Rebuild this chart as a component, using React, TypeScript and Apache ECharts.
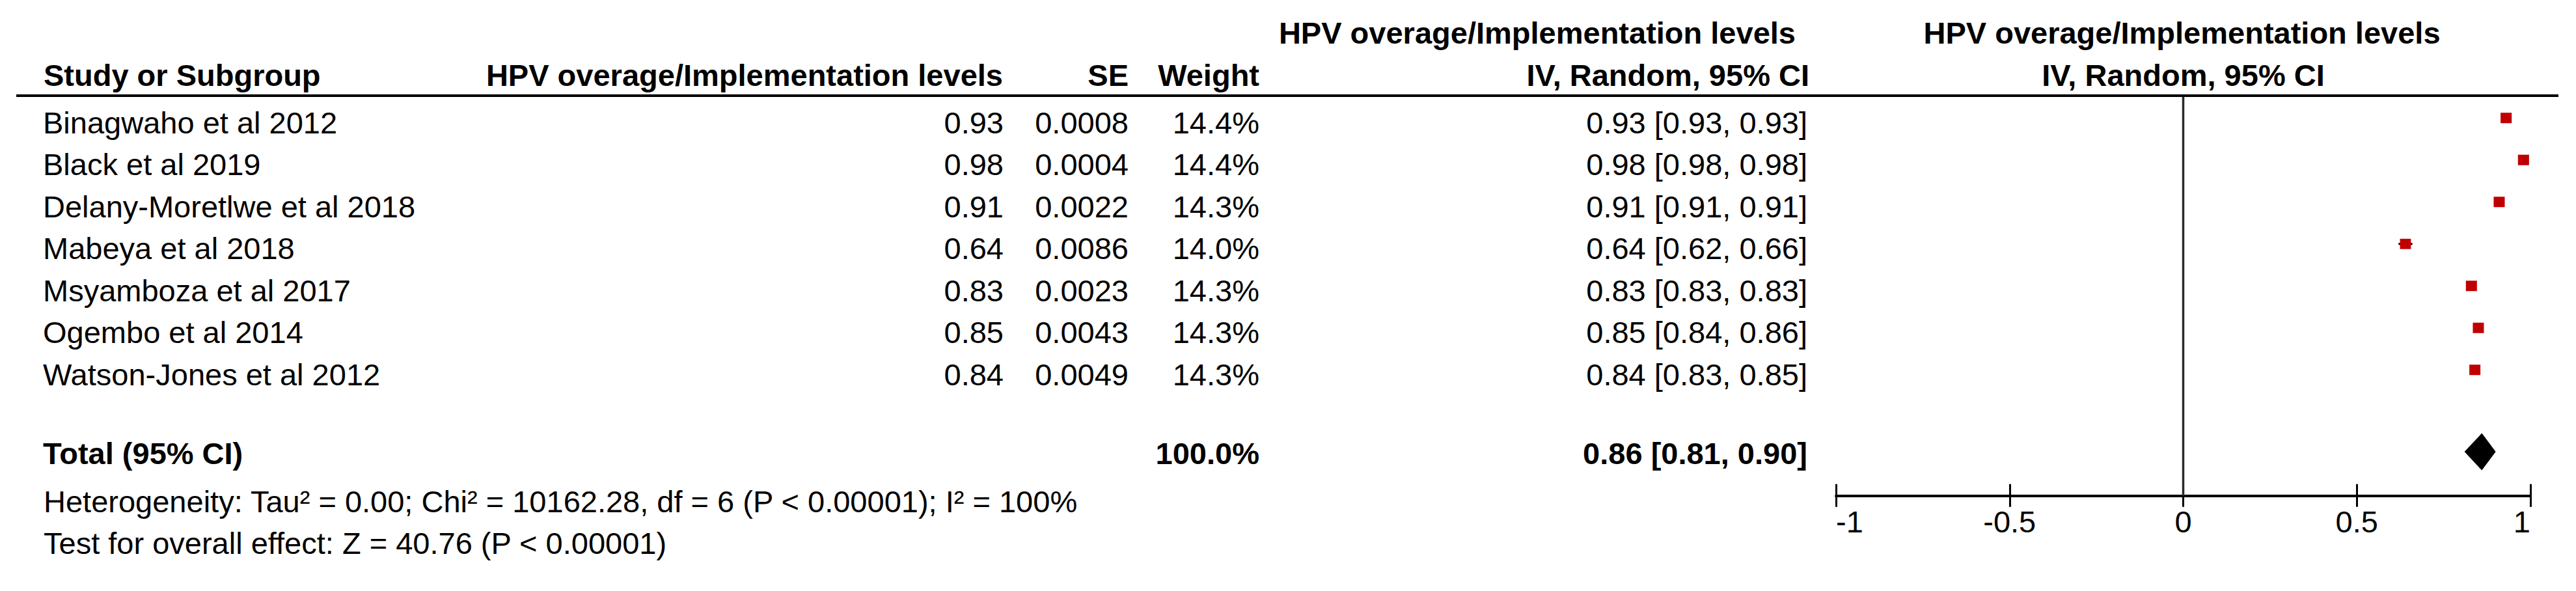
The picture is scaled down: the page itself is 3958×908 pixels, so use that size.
import React, { useEffect, useRef } from "react";
import * as echarts from "echarts";

// ---------------- data ----------------
const studies = [
  "Binagwaho et al 2012",
  "Black et al 2019",
  "Delany-Moretlwe et al 2018",
  "Mabeya et al 2018",
  "Msyamboza et al 2017",
  "Ogembo et al 2014",
  "Watson-Jones et al 2012",
];
const effects = [0.93, 0.98, 0.91, 0.64, 0.83, 0.85, 0.84];
const seValues = ["0.0008", "0.0004", "0.0022", "0.0086", "0.0023", "0.0043", "0.0049"];
const weights = [14.4, 14.4, 14.3, 14.0, 14.3, 14.3, 14.3];
const ciLow = [0.93, 0.98, 0.91, 0.62, 0.83, 0.84, 0.83];
const ciHigh = [0.93, 0.98, 0.91, 0.66, 0.83, 0.86, 0.85];
const totalEffect = [0.86];
const totalLow = [0.81];
const totalHigh = [0.9];
const totalWeight = [100.0];
const axisTickValues = [-1, -0.5, 0, 0.5, 1];
const headerTop = ["HPV overage/Implementation levels", "HPV overage/Implementation levels"];
const headerCols = [
  "Study or Subgroup",
  "HPV overage/Implementation levels",
  "SE",
  "Weight",
  "IV, Random, 95% CI",
  "IV, Random, 95% CI",
];
const totalLabel = "Total (95% CI)";
const heterogeneityText =
  "Heterogeneity: Tau\u00B2 = 0.00; Chi\u00B2 = 10162.28, df = 6 (P < 0.00001); I\u00B2 = 100%";
const overallText = "Test for overall effect: Z = 40.76 (P < 0.00001)";

// ---------------- layout ----------------
const W = 3958;
const H = 908;
const FONT = '"Liberation Sans", Arial, Helvetica, sans-serif';
const FS = 47;
const GRID_TOP = 149;
const ROW_H = 64.5;
const Y_MIN = -0.5;
const Y_MAX = 9;
const GRID_H = (Y_MAX - Y_MIN) * ROW_H;
const TOTAL_ROW = 7.95;
const TEXT_DY = 7;
const TOTAL_DY = 2;
const PLOT_LEFT = 2821;
const PLOT_W = 1067;
const X_NAME = 66;
const X_EFFECT = 1542;
const X_SE = 1734;
const X_WEIGHT = 1935;
const X_CI = 2777;
const ZERO_X = PLOT_LEFT + PLOT_W / 2;

const fmt2 = (v: number) => v.toFixed(2);
const ciText = (e: number, l: number, h: number) => `${fmt2(e)} [${fmt2(l)}, ${fmt2(h)}]`;

function txt(x: number, y: number, text: string, align: string, bold = false) {
  return {
    type: "text",
    x,
    y,
    silent: true,
    style: {
      text,
      fill: "#000",
      fontSize: FS,
      fontFamily: FONT,
      fontWeight: bold ? "bold" : "normal",
      align,
      textAlign: align,
      verticalAlign: "middle",
      textVerticalAlign: "middle",
    },
  };
}

function buildOption() {
  const rowIdx = studies.map((_, i) => i);
  return {
    animation: false,
    backgroundColor: "#ffffff",
    grid: [
      { left: 0, top: GRID_TOP, width: W, height: GRID_H, outerBoundsMode: "none", containLabel: false },
      { left: PLOT_LEFT, top: GRID_TOP, width: PLOT_W, height: GRID_H, outerBoundsMode: "none", containLabel: false },
    ],
    xAxis: [
      { type: "value", gridIndex: 0, min: 0, max: W, show: false },
      {
        type: "value",
        gridIndex: 1,
        min: -1,
        max: 1,
        interval: 0.5,
        position: "bottom",
        axisLine: { show: true, onZero: false, lineStyle: { color: "#000", width: 4 } },
        axisTick: { show: true, inside: false, length: 17, lineStyle: { color: "#000", width: 3 } },
        axisLabel: {
          show: true,
          margin: 16,
          color: "#000",
          fontSize: FS,
          fontFamily: FONT,
          alignMinLabel: "left",
          alignMaxLabel: "right",
          formatter: (v: number) => (axisTickValues.includes(v) ? String(v) : ""),
        },
        splitLine: { show: false },
      },
      {
        type: "value",
        gridIndex: 1,
        min: -1,
        max: 1,
        interval: 0.5,
        position: "bottom",
        offset: 0,
        axisLine: { show: false, onZero: false },
        axisTick: { show: true, inside: true, length: 18, lineStyle: { color: "#000", width: 3 } },
        axisLabel: { show: false },
        splitLine: { show: false },
      },
    ],
    yAxis: [
      { type: "value", gridIndex: 0, min: Y_MIN, max: Y_MAX, inverse: true, show: false },
      { type: "value", gridIndex: 1, min: Y_MIN, max: Y_MAX, inverse: true, show: false },
    ],
    series: [
      // table rows
      {
        type: "custom",
        xAxisIndex: 0,
        yAxisIndex: 0,
        data: rowIdx.map((i) => [0, i]),
        renderItem: (params: any, api: any) => {
          const i = params.dataIndex;
          const y = api.coord([0, api.value(1)])[1] + TEXT_DY;
          return {
            type: "group",
            children: [
              txt(X_NAME, y, studies[i], "left"),
              txt(X_EFFECT, y, fmt2(effects[i]), "right"),
              txt(X_SE, y, seValues[i], "right"),
              txt(X_WEIGHT, y, `${weights[i].toFixed(1)}%`, "right"),
              txt(X_CI, y, ciText(effects[i], ciLow[i], ciHigh[i]), "right"),
            ],
          };
        },
      },
      // total row text
      {
        type: "custom",
        xAxisIndex: 0,
        yAxisIndex: 0,
        data: totalEffect.map(() => [0, TOTAL_ROW]),
        renderItem: (params: any, api: any) => {
          const i = params.dataIndex;
          const y = api.coord([0, api.value(1)])[1] + TOTAL_DY;
          return {
            type: "group",
            children: [
              txt(X_NAME, y, totalLabel, "left", true),
              txt(X_WEIGHT, y, `${totalWeight[i].toFixed(1)}%`, "right", true),
              txt(X_CI, y, ciText(totalEffect[i], totalLow[i], totalHigh[i]), "right", true),
            ],
          };
        },
      },
      // zero line
      {
        type: "line",
        xAxisIndex: 1,
        yAxisIndex: 1,
        data: [
          [0, Y_MIN],
          [0, Y_MAX],
        ],
        symbol: "none",
        silent: true,
        lineStyle: { color: "#2a2a2a", width: 3.5 },
        z: 1,
      },
      // CI whiskers
      {
        type: "custom",
        xAxisIndex: 1,
        yAxisIndex: 1,
        data: rowIdx.map((i) => [ciLow[i], ciHigh[i], i]),
        z: 2,
        renderItem: (params: any, api: any) => {
          const a = api.coord([api.value(0), api.value(2)]);
          const b = api.coord([api.value(1), api.value(2)]);
          return {
            type: "line",
            shape: { x1: a[0], y1: a[1], x2: b[0], y2: b[1] },
            style: { stroke: "#000", lineWidth: 3 },
          };
        },
      },
      // study squares
      {
        type: "scatter",
        xAxisIndex: 1,
        yAxisIndex: 1,
        data: rowIdx.map((i) => [effects[i], i]),
        symbol: "rect",
        symbolSize: (_v: any, p: any) => {
          const s = Math.sqrt(weights[p.dataIndex] / 14.3);
          return [17 * s, 16 * s];
        },
        itemStyle: { color: "#C00000", opacity: 1 },
        z: 3,
      },
      // total diamond
      {
        type: "custom",
        xAxisIndex: 1,
        yAxisIndex: 1,
        data: totalEffect.map((e, i) => [totalLow[i], e, totalHigh[i], TOTAL_ROW]),
        z: 3,
        renderItem: (params: any, api: any) => {
          const r = api.value(3);
          const l = api.coord([api.value(0), r]);
          const c = api.coord([api.value(1), r]);
          const h = api.coord([api.value(2), r]);
          const hh = 28.5;
          return {
            type: "polygon",
            shape: {
              points: [
                [l[0], c[1]],
                [c[0], c[1] - hh],
                [h[0], c[1]],
                [c[0], c[1] + hh],
              ],
            },
            style: { fill: "#000" },
          };
        },
      },
    ],
    graphic: [
      {
        type: "line",
        silent: true,
        shape: { x1: 25, y1: 147, x2: 3931, y2: 147 },
        style: { stroke: "#000", lineWidth: 4 },
      },
      txt(2759, 50, headerTop[0], "right", true),
      txt(ZERO_X - 2, 50, headerTop[1], "center", true),
      txt(X_NAME + 1, 115, headerCols[0], "left", true),
      txt(X_EFFECT - 1, 115, headerCols[1], "right", true),
      txt(X_SE, 115, headerCols[2], "right", true),
      txt(X_WEIGHT, 115, headerCols[3], "right", true),
      txt(X_CI + 3, 115, headerCols[4], "right", true),
      txt(ZERO_X, 115, headerCols[5], "center", true),
      txt(X_NAME + 1, 770, heterogeneityText, "left"),
      txt(X_NAME + 1, 834, overallText, "left"),
    ],
  };
}

export default function App() {
  const ref = useRef<HTMLDivElement>(null);
  useEffect(() => {
    document.body.style.margin = "0";
    document.body.style.overflow = "hidden";
    const chart = echarts.init(ref.current as HTMLDivElement, null, {
      renderer: "svg",
      width: W,
      height: H,
    });
    chart.setOption(buildOption() as any);
    return () => {
      chart.dispose();
    };
  }, []);
  return <div ref={ref} style={{ width: W, height: H, background: "#fff" }} />;
}
